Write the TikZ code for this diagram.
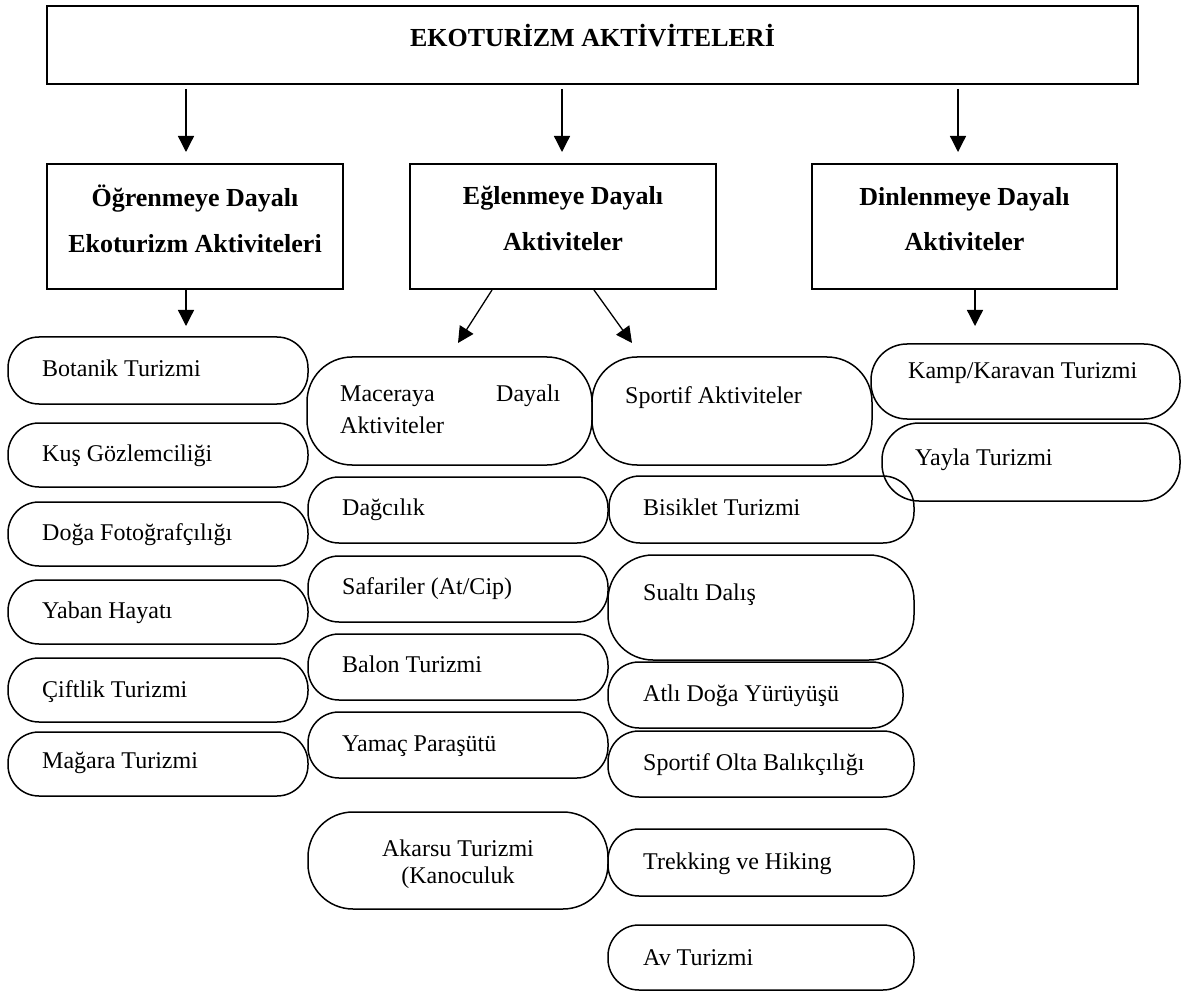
\documentclass[tikz,border=0pt]{standalone}
\usepackage{fontspec}
\setmainfont{Liberation Serif}
\usetikzlibrary{arrows.meta}

\newcommand\boxfont{\fontsize{26}{30}\selectfont\bfseries}
\newcommand\pillfont{\fontsize{24}{28}\selectfont}

\tikzset{
  mainbox/.style={draw, line width=2pt, inner sep=0pt},
  head/.style={anchor=base, inner sep=0pt, font=\boxfont},
  pill/.style={draw, line width=1.5pt, rounded corners=#1},
  pill/.default=31pt,
  item/.style={anchor=base west, inner sep=0pt, font=\pillfont},
  arr/.style={line width=1.3pt, -{Triangle[width=16pt,length=16pt]}}
}

\begin{document}
\begin{tikzpicture}[x=1pt, y=-1pt]
    \useasboundingbox (0,0) rectangle (1181,992);

    % ana kutu
    \node[mainbox, minimum width=1091pt, minimum height=78pt] (top) at (592.5,45) {};
    \node[head] (toptext) at (592.5,47) {EKOTURİZM AKTİVİTELERİ};

    % üç ana grup
    \node[mainbox, minimum width=296pt, minimum height=125pt] (ogren) at (195,226.5) {};
    \node[head] (ogren1) at (195,207) {Öğrenmeye Dayalı};
    \node[head] (ogren2) at (195,253) {Ekoturizm Aktiviteleri};

    \node[mainbox, minimum width=306pt, minimum height=125pt] (eglen) at (563,226.5) {};
    \node[head] (eglen1) at (563,205) {Eğlenmeye Dayalı};
    \node[head] (eglen2) at (563,251) {Aktiviteler};

    \node[mainbox, minimum width=305pt, minimum height=125pt] (dinlen) at (964.5,226.5) {};
    \node[head] (dinlen1) at (964.5,206) {Dinlenmeye Dayalı};
    \node[head] (dinlen2) at (964.5,251) {Aktiviteler};

    % oklar
    \coordinate (t1) at (186,152);
    \coordinate (t2) at (562,152);
    \coordinate (t3) at (958,152);
    \foreach \c in {t1,t2,t3}
        \draw[arr, shorten <=4pt] (top.south -| \c) -- (\c);

    \coordinate (o1) at (186,326);
    \draw[arr] (ogren.south -| o1) -- (o1);

    \coordinate (e1) at (458,343);
    \coordinate (e2) at (632,343);
    \draw[arr] ([xshift=83pt]eglen.south west) -- (e1);
    \draw[arr] ([xshift=185pt]eglen.south west) -- (e2);

    \coordinate (d1) at (975,326);
    \draw[arr] (dinlen.south -| d1) -- (d1);

    % öğrenmeye dayalı
    \draw[pill] (8,337) rectangle (308,404);
    \node[item] (botanik) at (42,376) {Botanik Turizmi};
    \draw[pill] (8,423) rectangle (308,487);
    \node[item] (kus) at (42,461) {Kuş Gözlemciliği};
    \draw[pill] (8,502) rectangle (308,566);
    \node[item] (foto) at (42,540) {Doğa Fotoğrafçılığı};
    \draw[pill] (8,580) rectangle (308,644);
    \node[item] (yaban) at (42,618) {Yaban Hayatı};
    \draw[pill] (8,658) rectangle (308,722);
    \node[item] (ciftlik) at (42,697) {Çiftlik Turizmi};
    \draw[pill] (8,732) rectangle (308,796);
    \node[item] (magara) at (42,768) {Mağara Turizmi};

    % maceraya dayalı
    \draw[pill=45pt] (307,357) rectangle (592,465);
    \node[item] (macera1) at (340,401) {\hbox to 220pt{Maceraya\hfill Dayalı}};
    \node[item] (macera2) at (340,433) {Aktiviteler};
    \draw[pill] (308,477) rectangle (608,543);
    \node[item] (dagcilik) at (342,515) {Dağcılık};
    \draw[pill] (308,556) rectangle (608,622);
    \node[item] (safari) at (342,594) {Safariler (At/Cip)};
    \draw[pill] (308,634) rectangle (608,700);
    \node[item] (balon) at (342,672) {Balon Turizmi};
    \draw[pill] (308,712) rectangle (608,778);
    \node[item] (yamac) at (342,751) {Yamaç Paraşütü};
    \draw[pill=45pt] (308,812) rectangle (608,909);
    \node[item, anchor=base] (akarsu1) at (458,856) {Akarsu Turizmi};
    \node[item, anchor=base] (akarsu2) at (458,883) {(Kanoculuk};

    % sportif
    \draw[pill=45pt] (592,357) rectangle (872,465);
    \node[item] (sportif) at (625,403) {Sportif Aktiviteler};
    \draw[pill] (609,476) rectangle (914,543);
    \node[item] (bisiklet) at (643,515) {Bisiklet Turizmi};
    \draw[pill=45pt] (608,555) rectangle (914,660);
    \node[item] (sualti) at (643,600) {Sualtı Dalış};
    \draw[pill] (608,662) rectangle (903,728);
    \node[item] (atli) at (643,701) {Atlı Doğa Yürüyüşü};
    \draw[pill] (608,731) rectangle (914,797);
    \node[item] (olta) at (643,770) {Sportif Olta Balıkçılığı};
    \draw[pill] (608,829) rectangle (914,896);
    \node[item] (trekking) at (643,869) {Trekking ve Hiking};
    \draw[pill] (608,925) rectangle (914,990);
    \node[item] (av) at (643,965) {Av Turizmi};

    % dinlenmeye dayalı
    \draw[pill=36pt] (871,344) rectangle (1180,419);
    \node[item] (kamp) at (908,378) {Kamp/Karavan Turizmi};
    \draw[pill=37pt] (882,423) rectangle (1180,501);
    \node[item] (yayla) at (915,465) {Yayla Turizmi};
\end{tikzpicture}
\end{document}
